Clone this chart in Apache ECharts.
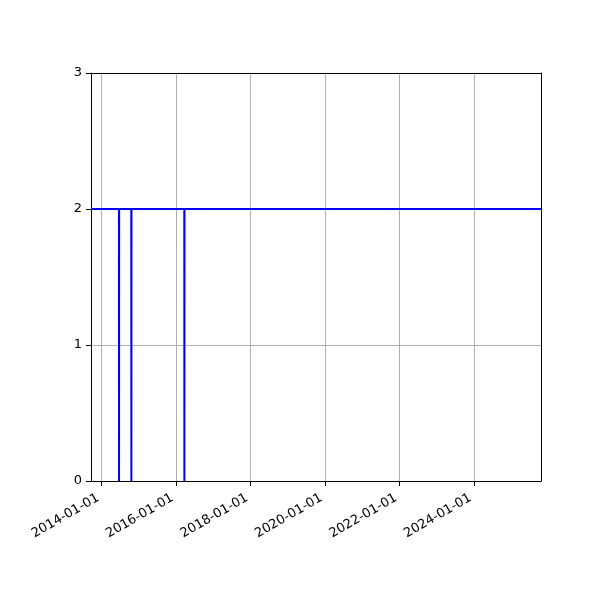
<!DOCTYPE html>
<html>
<head>
<meta charset="utf-8">
<script src="https://cdn.jsdelivr.net/npm/echarts@6/dist/echarts.min.js"></script>
<style>html,body{margin:0;padding:0;background:#fff}#c{width:600px;height:600px}</style>
</head>
<body>
<div id="c"></div>
<script>
const dates = ["2013-09-19","2014-06-20","2014-06-21","2014-06-22","2014-10-19","2014-10-20","2014-10-21","2016-03-22","2016-03-23","2016-03-24","2025-10-20"];
const values = [2,2,0,2,2,0,2,2,0,2,2];
const xTicks = ["2014-01-01","2016-01-01","2018-01-01","2020-01-01","2022-01-01","2024-01-01"];
const xMin = "2013-09-19";
const xMax = "2025-10-20";
const yTicks = [0,1,2,3];

const ts = s => Date.parse(s + "T00:00:00Z");
const chart = echarts.init(document.getElementById('c'), null, {renderer:'canvas'});
const font = 'DejaVu Sans';
const fmt = v => {const d=new Date(v);return d.getUTCFullYear()+'-'+String(d.getUTCMonth()+1).padStart(2,'0')+'-'+String(d.getUTCDate()).padStart(2,'0');};
chart.setOption({
  animation:false,
  grid:{left:91,right:59,top:73,bottom:119,containLabel:false},
  xAxis:[{
    type:'value', min:ts(xMin), max:ts(xMax),
    axisLine:{show:true,onZero:false,lineStyle:{color:'#000',width:1}},
    axisTick:{show:true,length:5,inside:false,lineStyle:{color:'#000'},customValues:xTicks.map(ts)},
    axisLabel:{show:true,rotate:30,color:'#000',fontSize:13,fontFamily:font,margin:14,padding:[0,4,0,0],
      customValues:xTicks.map(ts), formatter:fmt},
    splitLine:{show:true,lineStyle:{color:'#b0b0b0',width:1}}
  },{
    type:'value',position:'top',min:0,max:1,
    axisLine:{show:true,onZero:false,lineStyle:{color:'#000'}},axisTick:{show:false},axisLabel:{show:false},splitLine:{show:false}
  }],
  yAxis:[{
    type:'value', min:yTicks[0], max:yTicks[yTicks.length-1], interval:1,
    axisLine:{show:true,onZero:false,lineStyle:{color:'#000',width:1}},
    axisTick:{show:true,length:5,inside:false,lineStyle:{color:'#000'}},
    axisLabel:{color:'#000',fontSize:13,fontFamily:font,margin:9},
    splitLine:{show:true,lineStyle:{color:'#b0b0b0',width:1}}
  },{
    type:'value',position:'right',min:0,max:1,
    axisLine:{show:true,onZero:false,lineStyle:{color:'#000'}},axisTick:{show:false},axisLabel:{show:false},splitLine:{show:false}
  }],
  series:[{
    type:'line', xAxisIndex:0, yAxisIndex:0,
    data:dates.map((d,i)=>[ts(d),values[i]]),
    showSymbol:false, symbol:'none',
    lineStyle:{color:'#0000ff',width:2}, itemStyle:{color:'#0000ff'},
    clip:true
  }]
});
</script>
</body>
</html>
